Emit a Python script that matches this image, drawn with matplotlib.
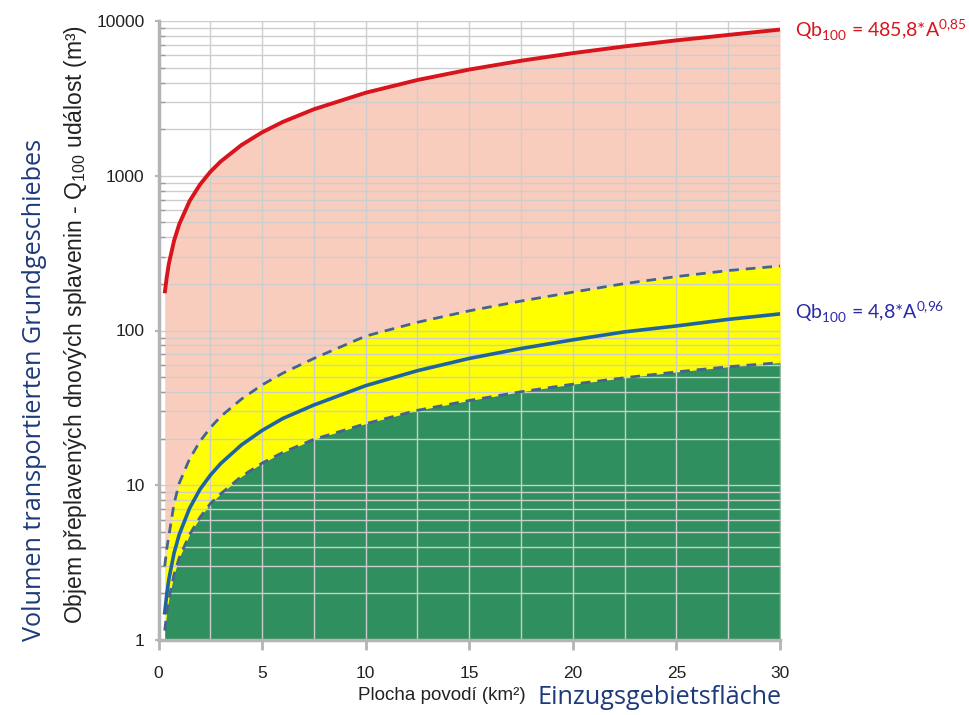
import matplotlib
matplotlib.use("Agg")
import matplotlib.pyplot as plt
from matplotlib.ticker import FixedLocator, NullFormatter, LogLocator

# ---- data ----
area = [0.3, 0.4, 0.5, 0.75, 1, 1.5, 2, 2.5, 3, 4, 5, 6, 7.5, 10,
        12.5, 15, 17.5, 20, 22.5, 25, 27.5, 30]
red_max = [174, 222, 270, 380, 486, 686, 876, 1060, 1236, 1578, 1908, 2228, 2690, 3439,
           4157, 4855, 5534, 6199, 6852, 7495, 8128, 8800]
blue_mid = [1.5, 1.98, 2.47, 3.64, 4.8, 7.1, 9.4, 11.6, 13.8, 18.2, 22.6, 27, 33, 44,
            55, 66, 76.5, 87, 98, 107, 118, 128]
upper_dash = [3.0, 3.9, 4.7, 7.6, 10.3, 14.8, 19.2, 23.5, 27.8, 36, 44.5, 53, 66, 92,
              113, 134, 155, 177, 201, 223, 244, 261]
lower_dash = [1.15, 1.5, 1.85, 2.65, 3.4, 4.8, 6.2, 7.6, 8.8, 11.4, 13.9, 16.3, 19.8, 25,
              30.5, 35.3, 40.2, 45, 49.5, 54, 58.3, 62]

x_ticks = [0, 5, 10, 15, 20, 25, 30]
x_tick_labels = ["0", "5", "10", "15", "20", "25", "30"]
y_ticks = [1, 10, 100, 1000, 10000]
y_tick_labels = ["1", "10", "100", "1000", "10000"]

eq_red = "Qb$_\\mathregular{100}$ = 485,8*A$^\\mathregular{0{,}85}$"
eq_blue = "Qb$_\\mathregular{100}$ = 4,8*A$^\\mathregular{0{,}96}$"
xlabel_cz = "Plocha povodí (km²)"
xlabel_de = "Einzugsgebietsfläche"
ylabel_cz = "Objem přeplavených dnových splavenin - Q$_\\mathregular{100}$ událost (m³)"
ylabel_de = "Volumen transportierten Grundgeschiebes"

# ---- figure ----
W, H = 969, 715
fig = plt.figure(figsize=(W / 100, H / 100), dpi=100)
L, R, T, B = 158.5, 780, 21, 640
ax = fig.add_axes([L / W, 1 - B / H, (R - L) / W, (B - T) / H])
ax.set_yscale("log")
ax.set_xlim(0, 30)
ax.set_ylim(1, 10000)

pink = "#F9CDBE"
yellow = "#FFFF00"
green = "#2F8F5E"

ax.fill_between(area, 1, red_max, color=pink, lw=0, zorder=1)
ax.fill_between(area, lower_dash, upper_dash, color=yellow, lw=0, zorder=1)
ax.fill_between(area, 1, lower_dash, color=green, lw=0, zorder=1)

ax.set_axisbelow("line")
ax.plot(area, red_max, color="#D8141C", lw=2.8, zorder=3, solid_capstyle="butt")
ax.plot(area, blue_mid, color="#1E64A0", lw=2.6, zorder=3)
ax.plot(area, upper_dash, color="#44638F", lw=2.0, ls=(0, (3.5, 2.5)), zorder=3)
ax.plot(area, lower_dash, color="#44638F", lw=2.0, ls=(0, (3.5, 2.5)), zorder=3)

# grid
ax.xaxis.set_major_locator(FixedLocator(x_ticks))
ax.xaxis.set_minor_locator(FixedLocator([2.5, 7.5, 12.5, 17.5, 22.5, 27.5]))
ax.set_xticklabels(x_tick_labels)
ax.yaxis.set_major_locator(FixedLocator(y_ticks))
ax.yaxis.set_minor_locator(LogLocator(base=10, subs=range(2, 10)))
ax.yaxis.set_minor_formatter(NullFormatter())
ax.set_yticklabels(y_tick_labels)
ax.grid(True, which="both", color="#CDCDCD", lw=1.0)

for s in ["top", "right"]:
    ax.spines[s].set_visible(False)
for s in ["left", "bottom"]:
    ax.spines[s].set_color("#B4B4B4")
    ax.spines[s].set_linewidth(2.5)

ax.tick_params(axis="x", which="major", direction="out", length=7, width=2,
               color="#B4B4B4", labelsize=12.5, pad=12, labelcolor="#222222")
ax.tick_params(axis="x", which="minor", length=0)
ax.tick_params(axis="y", which="major", direction="out", length=3, width=1.5,
               color="#B4B4B4", labelsize=12.5, pad=7, labelcolor="#222222")
ax.tick_params(axis="y", which="minor", direction="in", length=4, width=1,
               color="#9A9A9A")
for lab in ax.get_xticklabels() + ax.get_yticklabels():
    lab.set_fontfamily("Liberation Sans")

# labels
fig.text(358 / W, 1 - 695 / H, xlabel_cz, fontsize=13.5, family="Liberation Sans",
         color="#222222", ha="left", va="center")
fig.text(537 / W, 1 - 698 / H, xlabel_de, fontsize=18.2, family="Open Sans",
         color="#1F3A7A", ha="left", va="center")
fig.text(76 / W, 1 - 325 / H, ylabel_cz, fontsize=16.5, family="Liberation Sans",
         color="#222222", ha="center", va="center", rotation=90)
fig.text(35 / W, 1 - 390 / H, ylabel_de, fontsize=18.2, family="Open Sans",
         color="#1F3A7A", ha="center", va="center", rotation=90)

fig.text(795 / W, 1 - 30 / H, eq_red, fontsize=14, family="Lato",
         color="#D8141C", ha="left", va="center")
fig.text(795 / W, 1 - 312 / H, eq_blue, fontsize=14, family="Lato",
         color="#2A2AA8", ha="left", va="center")

fig.savefig("out.png", dpi=100)
